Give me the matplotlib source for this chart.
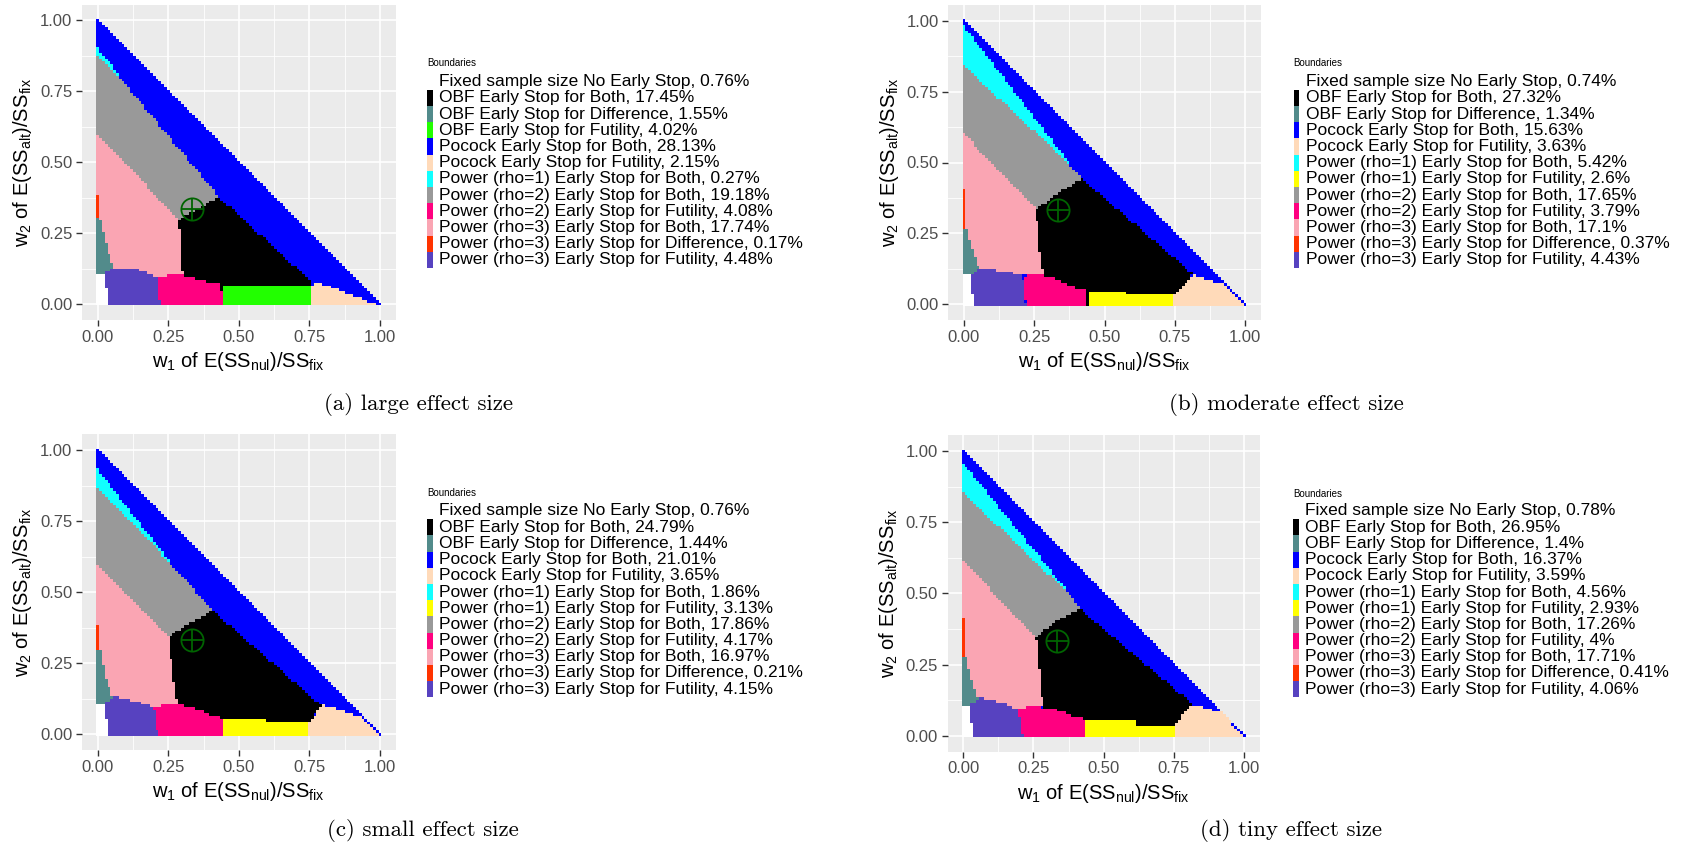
import numpy as np
import matplotlib
matplotlib.use("Agg")
import matplotlib.pyplot as plt
from matplotlib.colors import ListedColormap
from matplotlib.path import Path

plt.rcParams["font.family"] = ["Liberation Sans", "DejaVu Sans"]
plt.rcParams["mathtext.fontset"] = "custom"
plt.rcParams["mathtext.rm"] = "Liberation Sans"
plt.rcParams["mathtext.it"] = "Liberation Sans"
plt.rcParams["mathtext.default"] = "regular"

# categories (code, legend name, colour)
codes = ["fixed", "obf_both", "obf_diff", "obf_fut", "poc_both", "poc_fut",
         "p1_both", "p1_fut", "p2_both", "p2_fut", "p3_both", "p3_diff", "p3_fut"]
names = ["Fixed sample size No Early Stop", "OBF Early Stop for Both",
         "OBF Early Stop for Difference", "OBF Early Stop for Futility",
         "Pocock Early Stop for Both", "Pocock Early Stop for Futility",
         "Power (rho=1) Early Stop for Both", "Power (rho=1) Early Stop for Futility",
         "Power (rho=2) Early Stop for Both", "Power (rho=2) Early Stop for Futility",
         "Power (rho=3) Early Stop for Both", "Power (rho=3) Early Stop for Difference",
         "Power (rho=3) Early Stop for Futility"]
colors = ["#FFFFFF", "#000000", "#528B8B", "#22FF00", "#0000FF", "#FFDAB9",
          "#11FFFF", "#FFFF00", "#999999", "#FF0080", "#FAA5B3", "#FF3300", "#5742C0"]

# region outlines (w1, w2), painted in this order over Pocock Both
large_regions = [
    ("p1_both", [(0, 0.905), (0.08, 0.81), (0.08, 0.76), (0, 0.76)]),
    ("p2_both", [(0, 0.878), (0.075, 0.808), (0.433, 0.378), (0.29, 0.30), (0, 0.60)]),
    ("p3_both", [(0, 0.60), (0.29, 0.30), (0.297, 0.20), (0.303, 0.105), (0.22, 0.097), (0.06, 0.132), (0, 0.132)]),
    ("obf_both", [(0.29, 0.30), (0.42, 0.372), (0.433, 0.378), (0.76, 0.08), (0.76, 0), (0.30, 0), (0.303, 0.105), (0.297, 0.20)]),
    ("poc_fut", [(0.752, 0), (0.752, 0.06), (0.775, 0.078), (0.86, 0.05), (0.99, 0)]),
    ("obf_fut", [(0.445, 0), (0.445, 0.07), (0.62, 0.07), (0.62, 0.063), (0.756, 0.063), (0.756, 0)]),
    ("p2_fut", [(0.222, 0), (0.215, 0.095), (0.26, 0.106), (0.33, 0.10), (0.37, 0.085), (0.44, 0.073), (0.445, 0)]),
    ("p3_fut", [(0.038, 0), (0.026, 0.112), (0.06, 0.132), (0.16, 0.12), (0.215, 0.095), (0.224, 0)]),
    ("obf_diff", [(0, 0.302), (0.012, 0.302), (0.03, 0.22), (0.056, 0.13), (0.026, 0.108), (0, 0.108)]),
    ("p3_diff", [(0, 0.385), (0.008, 0.385), (0.008, 0.31), (0.015, 0.302), (0, 0.302)]),
    ("fixed", [(0, 0), (0, 0.108), (0.026, 0.108), (0.038, 0)]),
]
moderate_regions = [
    ("p1_both", [(0, 0.985), (0.38, 0.497), (0.38, 0.40), (0, 0.40)]),
    ("p2_both", [(0, 0.844), (0.377, 0.497), (0.42, 0.445), (0.342, 0.397), (0.259, 0.338), (0, 0.605)]),
    ("p3_both", [(0, 0.605), (0.259, 0.338), (0.27, 0.20), (0.285, 0.103), (0.21, 0.105), (0.055, 0.133), (0, 0.133)]),
    ("obf_both", [(0.259, 0.338), (0.342, 0.397), (0.42, 0.445), (0.816, 0.109), (0.77, 0.05), (0.745, 0), (0.285, 0), (0.285, 0.103), (0.27, 0.20)]),
    ("poc_fut", [(0.745, 0), (0.745, 0.03), (0.77, 0.05), (0.816, 0.105), (0.93, 0.07), (1.0, 0)]),
    ("p1_fut", [(0.442, 0), (0.442, 0.047), (0.58, 0.047), (0.58, 0.033), (0.745, 0.033), (0.745, 0)]),
    ("p2_fut", [(0.223, 0), (0.215, 0.10), (0.26, 0.11), (0.33, 0.09), (0.38, 0.065), (0.442, 0.055), (0.442, 0)]),
    ("p3_fut", [(0.036, 0), (0.024, 0.115), (0.055, 0.133), (0.16, 0.115), (0.21, 0.105), (0.223, 0)]),
    ("obf_diff", [(0, 0.271), (0.012, 0.271), (0.03, 0.20), (0.055, 0.125), (0.024, 0.103), (0, 0.103)]),
    ("p3_diff", [(0, 0.403), (0.012, 0.403), (0.012, 0.271), (0, 0.271)]),
    ("fixed", [(0, 0), (0, 0.103), (0.024, 0.103), (0.036, 0)]),
]
small_regions = [
    ("p1_both", [(0, 0.935), (0.26, 0.607), (0.26, 0.55), (0, 0.55)]),
    ("p2_both", [(0, 0.871), (0.256, 0.607), (0.41, 0.437), (0.303, 0.379), (0.256, 0.343), (0, 0.601)]),
    ("p3_both", [(0, 0.601), (0.256, 0.343), (0.266, 0.215), (0.286, 0.109), (0.197, 0.097), (0.055, 0.136), (0, 0.136)]),
    ("obf_both", [(0.256, 0.343), (0.303, 0.379), (0.41, 0.437), (0.793, 0.103), (0.746, 0.04), (0.746, 0), (0.286, 0), (0.286, 0.109), (0.266, 0.215)]),
    ("poc_fut", [(0.746, 0), (0.746, 0.04), (0.80, 0.105), (0.941, 0.062), (1.0, 0)]),
    ("p1_fut", [(0.443, 0), (0.443, 0.056), (0.60, 0.056), (0.60, 0.047), (0.746, 0.047), (0.746, 0)]),
    ("p2_fut", [(0.215, 0), (0.20, 0.097), (0.25, 0.108), (0.33, 0.10), (0.40, 0.07), (0.443, 0.06), (0.443, 0)]),
    ("p3_fut", [(0.038, 0), (0.026, 0.11), (0.055, 0.136), (0.15, 0.115), (0.20, 0.097), (0.215, 0)]),
    ("obf_diff", [(0, 0.297), (0.012, 0.297), (0.03, 0.20), (0.055, 0.13), (0.026, 0.109), (0, 0.109)]),
    ("p3_diff", [(0, 0.385), (0.012, 0.385), (0.012, 0.297), (0, 0.297)]),
    ("fixed", [(0, 0), (0, 0.109), (0.026, 0.109), (0.038, 0)]),
]
tiny_regions = [
    ("p1_both", [(0, 0.962), (0.391, 0.488), (0.391, 0.45), (0, 0.45)]),
    ("p2_both", [(0, 0.857), (0.391, 0.488), (0.418, 0.447), (0.332, 0.406), (0.261, 0.348), (0, 0.617)]),
    ("p3_both", [(0, 0.617), (0.261, 0.348), (0.273, 0.231), (0.285, 0.108), (0.196, 0.096), (0.053, 0.137), (0, 0.137)]),
    ("obf_both", [(0.261, 0.348), (0.332, 0.406), (0.418, 0.447), (0.816, 0.114), (0.76, 0.04), (0.76, 0), (0.285, 0), (0.285, 0.108), (0.273, 0.231)]),
    ("poc_fut", [(0.759, 0), (0.759, 0.04), (0.80, 0.10), (0.83, 0.11), (0.925, 0.082), (1.0, 0)]),
    ("p1_fut", [(0.433, 0), (0.433, 0.055), (0.62, 0.055), (0.62, 0.037), (0.759, 0.037), (0.759, 0)]),
    ("p2_fut", [(0.214, 0), (0.196, 0.096), (0.25, 0.106), (0.33, 0.095), (0.40, 0.068), (0.433, 0.061), (0.433, 0)]),
    ("p3_fut", [(0.036, 0), (0.026, 0.108), (0.053, 0.137), (0.15, 0.115), (0.196, 0.096), (0.214, 0)]),
    ("obf_diff", [(0, 0.278), (0.012, 0.278), (0.03, 0.20), (0.053, 0.13), (0.026, 0.108), (0, 0.108)]),
    ("p3_diff", [(0, 0.416), (0.012, 0.416), (0.012, 0.278), (0, 0.278)]),
    ("fixed", [(0, 0), (0, 0.108), (0.026, 0.108), (0.036, 0)]),
]

# legend entries and percentages
large_codes = ["fixed", "obf_both", "obf_diff", "obf_fut", "poc_both", "poc_fut",
               "p1_both", "p2_both", "p2_fut", "p3_both", "p3_diff", "p3_fut"]
large_pct = ["0.76", "17.45", "1.55", "4.02", "28.13", "2.15", "0.27", "19.18", "4.08", "17.74", "0.17", "4.48"]
other_codes = ["fixed", "obf_both", "obf_diff", "poc_both", "poc_fut", "p1_both",
               "p1_fut", "p2_both", "p2_fut", "p3_both", "p3_diff", "p3_fut"]
moderate_pct = ["0.74", "27.32", "1.34", "15.63", "3.63", "5.42", "2.6", "17.65", "3.79", "17.1", "0.37", "4.43"]
small_pct = ["0.76", "24.79", "1.44", "21.01", "3.65", "1.86", "3.13", "17.86", "4.17", "16.97", "0.21", "4.15"]
tiny_pct = ["0.78", "26.95", "1.4", "16.37", "3.59", "4.56", "2.93", "17.26", "4", "17.71", "0.41", "4.06"]

captions = ["(a) large effect size", "(b) moderate effect size",
            "(c) small effect size", "(d) tiny effect size"]
ticks = [0, 0.25, 0.5, 0.75, 1.0]
tick_labels = ["0.00", "0.25", "0.50", "0.75", "1.00"]
design_point = (1 / 3, 1 / 3)

W, H = 1682, 850
fig = plt.figure(figsize=(W / 100, H / 100), dpi=100)


def px_rect(left, top, w, h):
    return [left / W, 1 - (top + h) / H, w / W, h / H]


step = 0.01
grid = np.round(np.arange(0, 1 + step / 2, step), 2)
edges = np.linspace(-step / 2, 1 + step / 2, len(grid) + 1)
G1, G2 = np.meshgrid(grid, grid)
pts = np.column_stack([G1.ravel() + 0.002, G2.ravel() + 0.002])
cmap = ListedColormap(colors)

panels = [
    (large_regions, large_codes, large_pct, (82.0, 4.6, 313.6, 315.2), (427.5, 50, 340, 225), 63, (419, 404)),
    (moderate_regions, other_codes, moderate_pct, (948.4, 5.0, 312.2, 315.0), (1293.5, 50, 340, 225), 63, (1286, 404)),
    (small_regions, other_codes, small_pct, (82.0, 434.2, 313.6, 315.9), (427.5, 480, 340, 225), 492.5, (423, 831)),
    (tiny_regions, other_codes, tiny_pct, (947.7, 435.2, 312.0, 316.3), (1293, 480, 340, 225), 493.5, (1291, 831)),
]

for k, (regions, leg_codes, pct, arect, lrect, title_y, cap) in enumerate(panels):
    ax = fig.add_axes(px_rect(*arect))
    z = np.full(len(pts), codes.index("poc_both"), dtype=float)
    for code, poly in regions:
        inside = Path(poly).contains_points(pts)
        z[inside] = codes.index(code)
    z = z.reshape(G1.shape)
    z = np.ma.masked_where(G1 + G2 > 1 + 1e-9, z)
    ax.set_facecolor("#EBEBEB")
    ax.set_axisbelow(True)
    ax.pcolormesh(edges, edges, z, cmap=cmap, vmin=-0.5, vmax=len(colors) - 0.5,
                  shading="flat", zorder=1, antialiased=False)
    ax.plot(*design_point, marker="o", ms=16, mfc="none", mec="#006400", mew=1.3, zorder=3)
    ax.plot(*design_point, marker="+", ms=16, mec="#006400", mew=1.3, zorder=3)
    ax.set_xlim(-0.0555, 1.0555)
    ax.set_ylim(-0.0555, 1.0555)
    ax.set_xticks(ticks)
    ax.set_xticklabels(tick_labels)
    ax.set_yticks(ticks)
    ax.set_yticklabels(tick_labels)
    ax.set_xticks([0.125, 0.375, 0.625, 0.875], minor=True)
    ax.set_yticks([0.125, 0.375, 0.625, 0.875], minor=True)
    ax.grid(which="major", color="white", lw=1.2)
    ax.grid(which="minor", color="white", lw=0.6)
    ax.tick_params(which="major", length=4, width=1, color="#333333",
                   labelcolor="#4D4D4D", labelsize=12, pad=3)
    ax.tick_params(which="minor", length=0)
    for s in ax.spines.values():
        s.set_visible(False)
    ax.set_xlabel(r"w$_1$ of E(SS$_{nul}$)/SS$_{fix}$", fontsize=14.5, labelpad=4)
    ax.set_ylabel(r"w$_2$ of E(SS$_{alt}$)/SS$_{fix}$", fontsize=14.5, labelpad=4)

    # legend drawn in its own pixel-scaled axes
    lx, ly, lw_, lh = lrect
    lax = fig.add_axes(px_rect(lx, ly, lw_, lh))
    lax.set_xlim(0, lw_)
    lax.set_ylim(lh, 0)
    lax.axis("off")
    row0 = 81.7 if k < 2 else 511.0
    row = 16.2
    ys = [row0 - ly + i * row for i in range(len(leg_codes))]
    key_colors = [colors[codes.index(c)] for c in leg_codes]
    lax.barh(ys, 5.5, left=0, height=row, color=key_colors)
    for y, c, p in zip(ys, leg_codes, pct):
        lax.text(12, y, f"{names[codes.index(c)]}, {p}%", va="center", ha="left", fontsize=12.5)
    lax.text(0, title_y - ly, "Boundaries", va="center", ha="left", fontsize=7)

    fig.text(cap[0] / W, 1 - cap[1] / H, captions[k], ha="center", va="center",
             family="cmr10", fontsize=16.5)

fig.savefig("out.png", dpi=100)
